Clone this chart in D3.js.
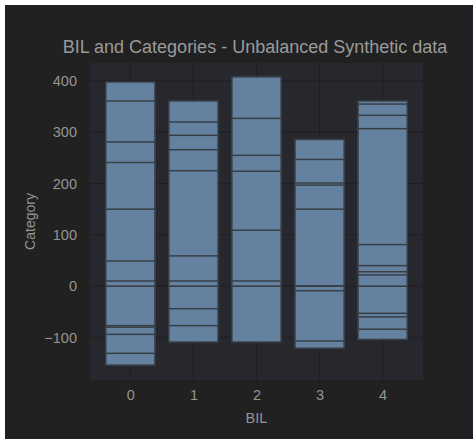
<!DOCTYPE html>
<html><head><meta charset="utf-8">
<script src="https://cdn.jsdelivr.net/npm/d3@7"></script>
<style>
html,body{margin:0;padding:0;background:#ffffff;}
svg{display:block;font-family:"Liberation Sans",Arial,sans-serif;}
</style></head>
<body>
<svg id="chart" width="473" height="439"></svg>
<script>
const categories = [0, 1, 2, 3, 4];
const bil0 = [398, 361, 281, 241, 150, 49, 10, -77, -80, -94, -131, -154];
const bil1 = [361, 320, 294, 266, 225, 59, 10, -44, -77, -109];
const bil2 = [408, 327, 255, 224, 109, 10, -109];
const bil3 = [286, 247, 201, 197, 150, -9, -107, -121];
const bil4 = [361, 355, 333, 307, 81, 40, 28, 22, -53, -60, -84, -104];
const seriesValues = [bil0, bil1, bil2, bil3, bil4];
const yTicks = [-100, 0, 100, 200, 300, 400];
const titleText = "BIL and Categories - Unbalanced Synthetic data";

const svg = d3.select("#chart");
svg.append("rect").attr("x",5).attr("y",5).attr("width",468).attr("height",434).attr("fill","#212121");
svg.append("rect").attr("x",459).attr("y",5).attr("width",14).attr("height",434).attr("fill","#1f2023");

const x = d3.scaleLinear().domain([-0.64, 4.64]).range([90, 423]);
const y = d3.scaleLinear().domain([-183, 435]).range([380, 63]);

svg.append("rect").attr("x",x.range()[0]).attr("y",y.range()[1])
  .attr("width",x.range()[1]-x.range()[0]).attr("height",y.range()[0]-y.range()[1])
  .attr("fill","#27282d");

const g = svg.append("g");
g.selectAll("line.gy").data(yTicks).enter().append("line")
  .attr("x1",x.range()[0]).attr("x2",x.range()[1])
  .attr("y1",d=>y(d)).attr("y2",d=>y(d))
  .attr("stroke","#1f1f22").attr("stroke-width",1);
g.selectAll("line.gx").data(categories).enter().append("line")
  .attr("y1",y.range()[0]).attr("y2",y.range()[1])
  .attr("x1",d=>x(d)).attr("x2",d=>x(d))
  .attr("stroke","#1f1f22").attr("stroke-width",1);

const bw = 0.78;
categories.forEach((c, i) => {
  const vals = seriesValues[i].slice().sort((a,b)=>Math.abs(b)-Math.abs(a));
  svg.append("g").selectAll("rect").data(vals).enter().append("rect")
    .attr("x", x(c - bw/2))
    .attr("width", x(c + bw/2) - x(c - bw/2))
    .attr("y", d => y(Math.max(0,d)))
    .attr("height", d => Math.abs(y(d) - y(0)))
    .attr("fill", "#6482a0")
    .attr("stroke", "#393e45")
    .attr("stroke-width", 1.5);
});

const fontFam = "Liberation Sans, Arial, sans-serif";
const yAxis = d3.axisLeft(y).tickValues(yTicks).tickSize(0).tickPadding(13)
  .tickFormat(d => d < 0 ? "\u2212" + Math.abs(d) : String(d));
const ya = svg.append("g").attr("transform",`translate(${x.range()[0]},0)`).call(yAxis);
ya.select(".domain").remove();
ya.selectAll("text").attr("fill","#959595").style("font-size","14.5px").style("font-family",fontFam);

const xAxis = d3.axisBottom(x).tickValues(categories).tickSize(0).tickPadding(10)
  .tickFormat(d => String(d));
const xa = svg.append("g").attr("transform",`translate(0,${y.range()[0]})`).call(xAxis);
xa.select(".domain").remove();
xa.selectAll("text").attr("fill","#959595").style("font-size","14.5px").style("font-family",fontFam);

svg.append("text").attr("x",(x.range()[0]+x.range()[1])/2).attr("y",423)
  .attr("text-anchor","middle").attr("fill","#959595").style("font-size","14.5px").style("font-family",fontFam).text("BIL");
svg.append("text").attr("transform",`translate(35,${(y.range()[0]+y.range()[1])/2}) rotate(-90)`)
  .attr("text-anchor","middle").attr("fill","#959595").style("font-size","14px").style("font-family",fontFam).text("Category");
svg.append("text").attr("x",255).attr("y",53)
  .attr("text-anchor","middle").attr("fill","#9a9a9a").style("font-size","18px").style("font-family",fontFam).text(titleText);
</script>
</body></html>
